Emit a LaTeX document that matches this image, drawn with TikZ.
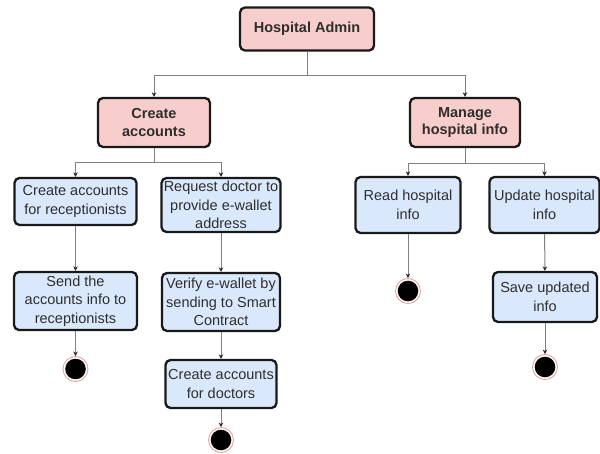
\documentclass[tikz,border=0pt]{standalone}
\usepackage{fontspec}
\setmainfont{Liberation Sans}
\usetikzlibrary{arrows.meta}
\definecolor{adminpink}{HTML}{F8CECC}
\definecolor{taskblue}{HTML}{DAE8FC}
\definecolor{ringpink}{HTML}{E6A5A2}
\tikzset{>={Stealth[length=4.5pt,width=4.5pt,color=black!85]}}
\tikzset{box/.style = {draw=black!90, line width=2.3pt, rounded corners=5pt, text=black!82,
    align=center, inner sep=0.5pt, font=\fontsize{14.5}{18.5}\selectfont},
  head/.style = {box, fill=adminpink, font=\fontsize{14.5}{17.5}\selectfont\bfseries},
  task/.style = {box, fill=taskblue},
  endstate/.style = {circle, draw=ringpink, line width=0.9pt, minimum size=25pt,
    inner sep=0pt, path picture={\fill[black] (path picture bounding box.center) circle (10.3pt);}},
  link/.style = {draw=black!50, line width=1pt, ->}}

\begin{document}
\begin{tikzpicture}[x=1pt,y=-1pt]
    \useasboundingbox (0,0) rectangle (600,454);
    \node[head, minimum width=134pt, minimum height=43pt] (admin) at (307,29) {Hospital Admin};
    \node[head, minimum width=112pt, minimum height=49pt] (create) at (154,122.5) {Create\\accounts};
    \node[head, minimum width=110pt, minimum height=49pt] (manage) at (465,122.5) {Manage\\hospital info};
    % create accounts
    \node[task, minimum width=122pt, minimum height=47pt] (recep) at (75.5,201.5) {Create accounts\\for receptionists};
    \node[task, minimum width=119pt, minimum height=54pt] (request) at (221,205) {Request doctor to\\provide e-wallet\\address};
    \node[task, minimum width=123pt, minimum height=58pt] (send) at (75.5,301) {Send the\\accounts info to\\receptionists};
    \node[task, minimum width=118pt, minimum height=58pt] (verify) at (221,302) {Verify e-wallet by\\sending to Smart\\Contract};
    \node[task, minimum width=111pt, minimum height=48pt] (doctors) at (221,384) {Create accounts\\for doctors};
    \node[endstate] (endsend) at (75.5,369) {};
    \node[endstate] (enddoc) at (221,440) {};
    % manage hospital info
    \node[task, minimum width=105pt, minimum height=56pt] (read) at (408,205) {Read hospital\\info};
    \node[task, minimum width=110pt, minimum height=56pt] (update) at (544.5,205) {Update hospital\\info};
    \node[task, minimum width=104pt, minimum height=50pt] (save) at (545,297) {Save updated\\info};
    \node[endstate] (endread) at (408,291) {};
    \node[endstate] (endsave) at (545,367) {};
    % connectors
    \draw[link] (admin.south) -- ++(0,24) -| (create.north);
    \draw[link] (admin.south) -- ++(0,24) -| (manage.north);
    \draw[link] (create.south) -- ++(0,14) -| (recep.north);
    \draw[link] (create.south) -- ++(0,14) -| (request.north);
    \draw[link] (manage.south) -- ++(0,15) -| (read.north);
    \draw[link] (manage.south) -- ++(0,15) -| (update.north);
    \draw[link] (recep) -- (send);
    \draw[link] (send) -- (endsend);
    \draw[link] (request) -- (verify);
    \draw[link] (verify) -- (doctors);
    \draw[link] (doctors) -- (enddoc);
    \draw[link] (read) -- (endread);
    \draw[link] (update) -- (save);
    \draw[link] (save) -- (endsave);
  \end{tikzpicture}
\end{document}
